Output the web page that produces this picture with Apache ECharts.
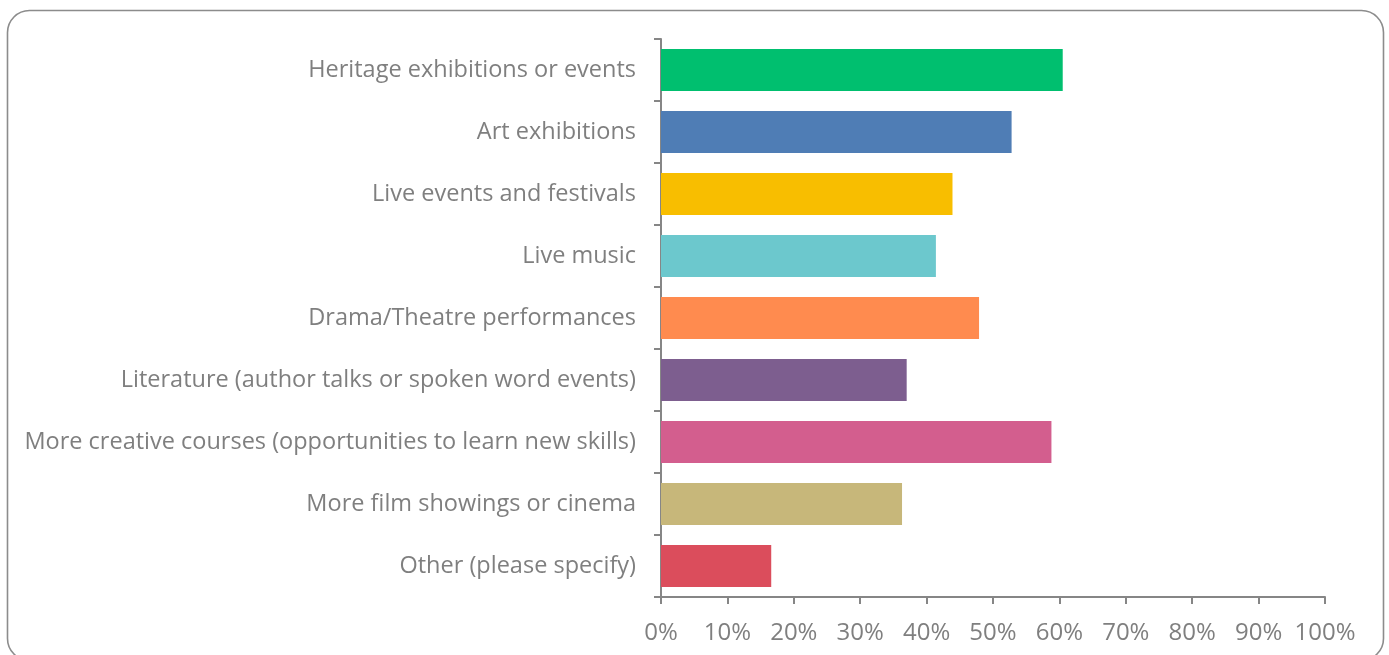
<!DOCTYPE html>
<html>
<head>
<meta charset="utf-8">
<title>Activities</title>
<script src="https://cdn.jsdelivr.net/npm/echarts@6/dist/echarts.min.js"></script>
<style>
  html, body { margin: 0; padding: 0; background: #ffffff; }
  #chart { width: 1389px; height: 655px; }
</style>
</head>
<body>
<div id="chart"></div>
<script>
// Activity categories, top to bottom
const categories = [
  'Heritage exhibitions or events',
  'Art exhibitions',
  'Live events and festivals',
  'Live music',
  'Drama/Theatre performances',
  'Literature (author talks or spoken word events)',
  'More creative courses (opportunities to learn new skills)',
  'More film showings or cinema',
  'Other (please specify)'
];

// Share of respondents (%)
const values = [60.5, 52.8, 43.9, 41.4, 47.9, 37.0, 58.8, 36.3, 16.6];

// Axis tick values (%)
const xTicks = [0, 10, 20, 30, 40, 50, 60, 70, 80, 90, 100];

const barColors = ['#00BF6F', '#4F7DB5', '#F8BE00', '#6CC8CD', '#FF8B4F',
                   '#7D5E8F', '#D35E8E', '#C7B77A', '#DB4D5C'];

const FONT = '"Open Sans"';
const TEXT_GREY = '#7f7f7f';
const AXIS_GREY = '#868686';

const chart = echarts.init(document.getElementById('chart'));

chart.setOption({
  animation: false,
  backgroundColor: '#ffffff',
  graphic: [{
    type: 'rect',
    shape: { x: 7.5, y: 10.5, width: 1376, height: 650, r: 22 },
    style: { fill: 'none', stroke: '#8c8c8c', lineWidth: 1.6 },
    silent: true
  }],
  grid: { left: 661, right: 64, top: 39, bottom: 58 },
  xAxis: {
    type: 'value',
    min: xTicks[0],
    max: xTicks[xTicks.length - 1],
    interval: xTicks[1] - xTicks[0],
    axisLine: { show: true, lineStyle: { color: AXIS_GREY, width: 2 } },
    axisTick: { show: true, length: 7, lineStyle: { color: AXIS_GREY, width: 2 } },
    splitLine: { show: false },
    axisLabel: {
      margin: 24,
      color: TEXT_GREY,
      fontFamily: FONT,
      fontSize: 24,
      formatter: '{value}%'
    }
  },
  yAxis: {
    type: 'category',
    inverse: true,
    data: categories,
    axisLine: { show: true, lineStyle: { color: AXIS_GREY, width: 2 } },
    axisTick: { show: true, length: 7, lineStyle: { color: AXIS_GREY, width: 2 } },
    axisLabel: {
      margin: 25,
      color: TEXT_GREY,
      fontFamily: FONT,
      fontSize: 23.5
    }
  },
  series: [{
    type: 'bar',
    barCategoryGap: '32%',
    data: values.map((v, i) => ({ value: v, itemStyle: { color: barColors[i] } }))
  }]
});
</script>
</body>
</html>
